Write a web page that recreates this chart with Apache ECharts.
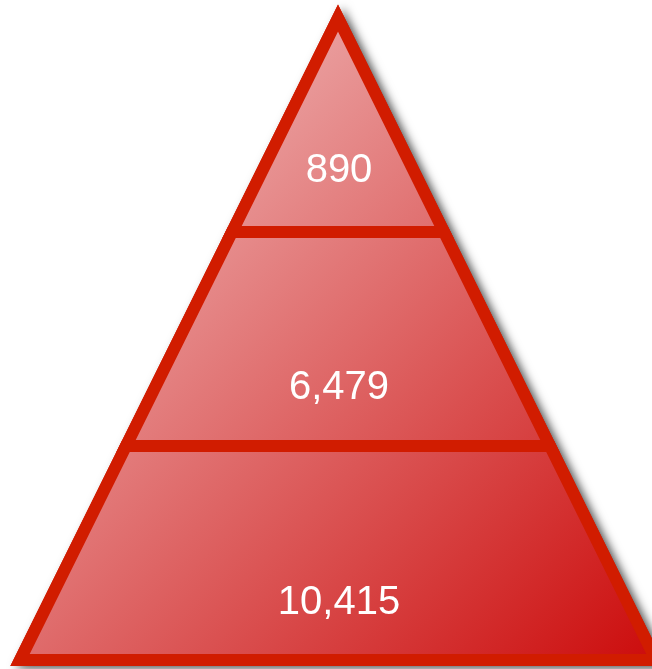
<!DOCTYPE html>
<html><head><meta charset="utf-8">
<script src="https://cdn.jsdelivr.net/npm/echarts@6/dist/echarts.min.js"></script>
<style>html,body{margin:0;padding:0;background:#fff}#c{width:652px;height:669px}</style>
</head><body><div id="c"></div>
<script>
// Data
const tiers = ['Top', 'Middle', 'Bottom'];
const values = [890, 6479, 10415];

// Layout (pixels)
const apexX = 338, apexY = 18, baseY = 660, halfBase = 318;
const labelFrac = [0.717, 0.73, 0.735];
const borderColor = '#d11c00';

const chart = echarts.init(document.getElementById('c'), null, { renderer: 'canvas' });

const fillGrad = {
  type: 'linear', global: true,
  x: apexX - halfBase, y: apexY, x2: apexX + halfBase, y2: baseY,
  colorStops: [
    { offset: 0, color: 'rgb(243,204,204)' },
    { offset: 1, color: 'rgb(204,12,12)' }
  ]
};

function halfAt(y) { return (y - apexY) / (baseY - apexY) * halfBase; }

function renderItem(params, api) {
  const i = params.dataIndex;
  const n = values.length;
  const h = (baseY - apexY) / n;
  const yT = apexY + h * i, yB = yT + h;
  const wT = halfAt(yT), wB = halfAt(yB);
  const pts = i === 0
    ? [[apexX, yT], [apexX + wB, yB], [apexX - wB, yB]]
    : [[apexX - wT, yT], [apexX + wT, yT], [apexX + wB, yB], [apexX - wB, yB]];
  const children = [];
  if (i === 0) {
    children.push({
      type: 'polygon',
      shape: { points: [[apexX, apexY], [apexX + halfBase, baseY], [apexX - halfBase, baseY]] },
      style: {
        fill: borderColor, stroke: borderColor, lineWidth: 12, lineJoin: 'miter',
        shadowBlur: 10, shadowColor: 'rgba(0,0,0,0.55)', shadowOffsetX: 5, shadowOffsetY: 3
      },
      silent: true
    });
  }
  children.push({
    type: 'polygon',
    shape: { points: pts },
    style: { fill: fillGrad, stroke: borderColor, lineWidth: 12, lineJoin: 'miter' }
  });
  children.push({
    type: 'text',
    x: apexX + 1, y: yT + h * labelFrac[i],
    style: {
      text: Number(api.value(0)).toLocaleString('en-US'),
      fill: '#ffffff',
      font: '40px "Liberation Sans", Arial, sans-serif',
      align: 'center', verticalAlign: 'middle'
    }
  });
  return { type: 'group', children };
}

chart.setOption({
  animation: false,
  series: [{
    type: 'custom',
    coordinateSystem: 'none',
    data: values.map((v, i) => ({ name: tiers[i], value: v })),
    renderItem
  }]
});
</script>
</body></html>
